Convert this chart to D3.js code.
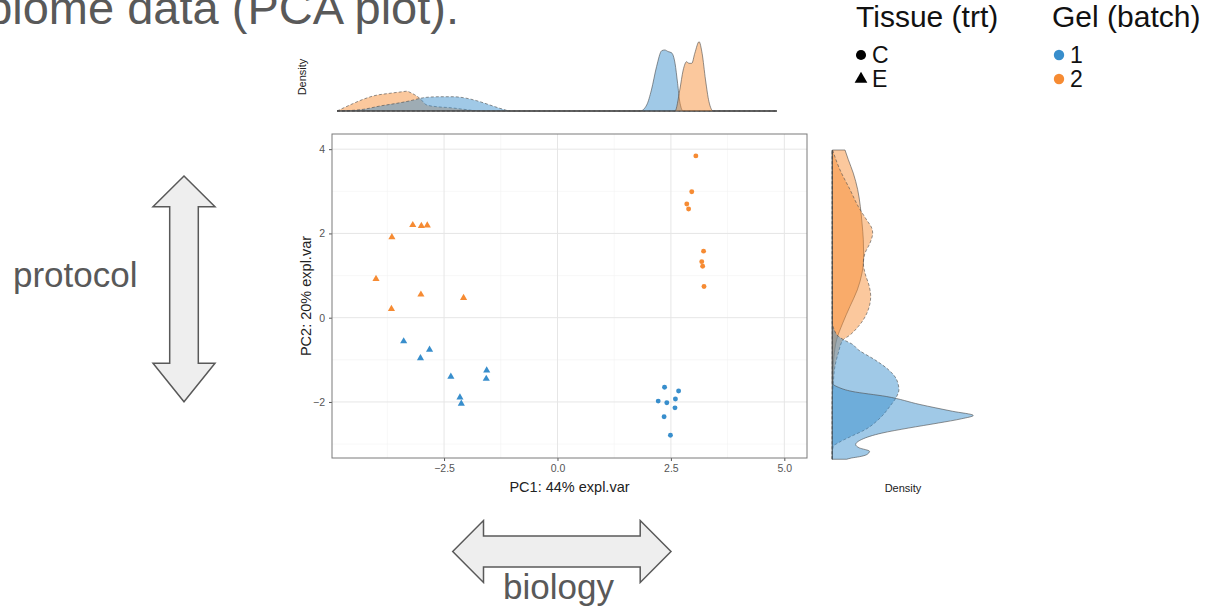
<!DOCTYPE html>
<html>
<head>
<meta charset="utf-8">
<script src="https://cdn.jsdelivr.net/npm/d3@7"></script>
<style>
  html, body { margin: 0; padding: 0; background: #fff; }
  svg { display: block; font-family: "Liberation Sans", Arial, sans-serif; }
</style>
</head>
<body>
<svg id="fig" width="1209" height="613"></svg>
<script>
// ---- PCA scores (PC1, PC2) per sample ----
const sampleX = [-4.00, -3.65, -3.66, -3.19, -3.00, -2.87, -3.01, -2.07,
                 -3.39, -3.02, -2.82, -2.35, -2.15, -2.12, -1.56, -1.57,
                  3.05,  2.96,  2.85,  2.89,  3.22,  3.18,  3.20,  3.23,
                  2.36,  2.67,  2.22,  2.41,  2.60,  2.59,  2.35,  2.49];
const sampleY = [ 0.92,  1.91,  0.21,  2.20,  2.18,  2.19,  0.55,  0.47,
                 -0.56, -0.96, -0.76, -1.40, -1.89, -2.04, -1.25, -1.45,
                  3.84,  2.99,  2.70,  2.58,  1.58,  1.33,  1.22,  0.74,
                 -1.65, -1.74, -1.98, -2.02, -1.93, -2.14, -2.35, -2.79];
const tissue = ["E","E","E","E","E","E","E","E", "E","E","E","E","E","E","E","E",
                "C","C","C","C","C","C","C","C", "C","C","C","C","C","C","C","C"];
const gel    = ["2","2","2","2","2","2","2","2", "1","1","1","1","1","1","1","1",
                "2","2","2","2","2","2","2","2", "1","1","1","1","1","1","1","1"];

const xTicks = [-2.5, 0.0, 2.5, 5.0];
const yTicks = [-2, 0, 2, 4];
const xMinor = [-3.75, -1.25, 1.25, 3.75];
const yMinor = [-3, -1, 1, 3];

// ---- marginal densities: [PC value, density] ----
const topE2 = [[-5.0,0],[-4.70,0.10],[-4.39,0.195],[-4.16,0.25],[-3.77,0.295],[-3.49,0.32],[-3.37,0.33],
               [-3.30,0.31],[-3.19,0.27],[-3.07,0.21],[-2.91,0.10],[-2.68,0.072],[-2.37,0.055],[-2.07,0.03],
               [-1.75,0.005],[-1.5,0],[5.24,0]];
const topE1 = [[-5.0,0],[-4.39,0.028],[-4.0,0.083],[-3.61,0.128],[-3.30,0.17],[-3.07,0.21],[-2.91,0.228],
               [-2.60,0.238],[-2.29,0.238],[-2.06,0.222],[-1.75,0.172],[-1.44,0.10],[-1.13,0.028],[-0.97,0],[5.24,0]];
const topC1 = [[-5.0,0],[2.06,0],[2.21,0.10],[2.32,0.35],[2.44,0.74],[2.56,1.005],[2.63,1.017],[2.71,0.99],
               [2.79,0.97],[2.87,0.795],[2.93,0.46],[2.98,0.155],[3.06,0],[5.24,0]];
const topC2 = [[-5.0,0],[2.87,0],[2.98,0.35],[3.06,0.683],[3.14,0.822],[3.19,0.795],[3.26,0.795],[3.33,0.962],
               [3.43,1.155],[3.50,0.962],[3.58,0.517],[3.66,0.155],[3.76,0],[5.24,0]];

const rightC2 = [[3.98,0.212],[3.75,0.267],[3.43,0.35],[3.04,0.423],[2.64,0.467],[2.25,0.495],[1.85,0.517],
                 [1.45,0.523],[1.06,0.495],[0.66,0.417],[0.27,0.295],[-0.13,0.173],[-0.52,0.073],[-0.92,0.028],
                 [-1.31,0.012],[-1.79,0.003],[-2.3,0],[-3.36,0]];
const rightE2 = [[3.98,0.005],[3.51,0.128],[3.04,0.295],[2.64,0.433],[2.32,0.573],[2.13,0.657],[2.01,0.673],
                 [1.77,0.628],[1.53,0.545],[1.30,0.517],[1.06,0.545],[0.74,0.617],[0.51,0.64],[0.27,0.617],
                 [-0.05,0.517],[-0.21,0.433],[-0.44,0.267],[-0.52,0.183],[-0.84,0.10],[-1.15,0.045],
                 [-1.55,0.017],[-2.0,0],[-3.36,0]];
const rightE1 = [[3.98,0],[-0.1,0],[-0.28,0.03],[-0.44,0.10],[-0.54,0.21],[-0.62,0.323],[-0.76,0.433],
                 [-1.0,0.71],[-1.23,0.933],[-1.47,1.073],[-1.71,1.11],[-1.87,1.073],[-2.10,0.962],[-2.42,0.767],
                 [-2.66,0.545],[-2.81,0.323],[-2.97,0.10],[-3.05,0.017],[-3.2,0],[-3.36,0]];
const rightC1 = [[3.98,0],[-1.55,0],[-1.65,0.10],[-1.75,0.33],[-1.87,0.9],[-2.06,1.46],[-2.22,2.0],[-2.32,2.35],
                 [-2.40,2.15],[-2.50,1.767],[-2.62,1.267],[-2.74,0.823],[-2.89,0.49],[-3.01,0.39],[-3.09,0.45],
                 [-3.17,0.62],[-3.25,0.573],[-3.30,0.45],[-3.33,0.32],[-3.36,0.24]];

const gelColour = { "1": "#388ECC", "2": "#F68B33" };
const dashFor = { "C": null, "E": "3,2" };

const svg = d3.select("#fig");

// ---- heading (runs off the top edge of the slide) ----
svg.append("text").attr("x", 459).attr("y", 24).attr("text-anchor", "end")
  .attr("font-size", 47).attr("fill", "#595959").text("Microbiome data (PCA plot).");

// ---- main scatter panel ----
const x = d3.scaleLinear().domain([-4.97, 5.50]).range([332, 807]);
const y = d3.scaleLinear().domain([-3.33, 4.36]).range([458, 134]);

const grid = svg.append("g");
grid.selectAll(".vminor").data(xMinor).join("line")
  .attr("x1", d => x(d)).attr("x2", d => x(d)).attr("y1", 134).attr("y2", 458)
  .attr("stroke", "#f2f2f2").attr("stroke-width", 0.6);
grid.selectAll(".hminor").data(yMinor).join("line")
  .attr("y1", d => y(d)).attr("y2", d => y(d)).attr("x1", 332).attr("x2", 807)
  .attr("stroke", "#f2f2f2").attr("stroke-width", 0.6);
grid.selectAll(".vmajor").data(xTicks).join("line")
  .attr("x1", d => x(d)).attr("x2", d => x(d)).attr("y1", 134).attr("y2", 458)
  .attr("stroke", "#e6e6e6").attr("stroke-width", 1);
grid.selectAll(".hmajor").data(yTicks).join("line")
  .attr("y1", d => y(d)).attr("y2", d => y(d)).attr("x1", 332).attr("x2", 807)
  .attr("stroke", "#e6e6e6").attr("stroke-width", 1);

const xAxis = svg.append("g").attr("transform", "translate(0,458)")
  .call(d3.axisBottom(x).tickValues(xTicks).tickFormat(d3.format(".1f")).tickSize(3).tickPadding(4));
const yAxis = svg.append("g").attr("transform", "translate(332,0)")
  .call(d3.axisLeft(y).tickValues(yTicks).tickFormat(d3.format("d")).tickSize(3).tickPadding(4));
[xAxis, yAxis].forEach(a => {
  a.select(".domain").remove();
  a.selectAll(".tick line").attr("stroke", "#555");
  a.selectAll(".tick text").attr("fill", "#555").attr("font-size", 10.5)
    .attr("font-family", "Liberation Sans, Arial, sans-serif");
});

svg.append("rect").attr("x", 332).attr("y", 134).attr("width", 475).attr("height", 324)
  .attr("fill", "none").attr("stroke", "#7a7a7a").attr("stroke-width", 1);

svg.append("text").attr("x", 569.5).attr("y", 492).attr("text-anchor", "middle")
  .attr("font-size", 14.5).attr("fill", "#222").text("PC1: 44% expl.var");
svg.append("text").attr("transform", "translate(311,296) rotate(-90)").attr("text-anchor", "middle")
  .attr("font-size", 14.5).attr("fill", "#222").text("PC2: 20% expl.var");

const idx = d3.range(sampleX.length);
svg.append("g").selectAll("path").data(idx).join("path")
  .attr("transform", i => `translate(${x(sampleX[i])},${y(sampleY[i])})`)
  .attr("d", i => d3.symbol(tissue[i] === "C" ? d3.symbolCircle : d3.symbolTriangle,
                            tissue[i] === "C" ? 19 : 22)())
  .attr("fill", i => gelColour[gel[i]]);

// ---- top marginal density (PC1) ----
const xTop = d3.scaleLinear().domain([-5.0, 5.5]).range([337, 788]);
const yTop = d3.scaleLinear().domain([0, 1.2]).range([111, 39]);
const topArea = d3.area().x(d => xTop(d[0])).y0(yTop(0)).y1(d => yTop(d[1])).curve(d3.curveMonotoneX);
const topCurves = [
  { data: topE2, gel: "2", trt: "E" },
  { data: topE1, gel: "1", trt: "E" },
  { data: topC1, gel: "1", trt: "C" },
  { data: topC2, gel: "2", trt: "C" }
];
svg.append("g").selectAll("path").data(topCurves).join("path")
  .attr("d", c => topArea(c.data))
  .attr("fill", c => gelColour[c.gel]).attr("fill-opacity", 0.48)
  .attr("stroke", "#4a4a4a").attr("stroke-width", 0.6)
  .attr("stroke-dasharray", c => dashFor[c.trt]);
svg.append("text").attr("transform", "translate(306,77) rotate(-90)").attr("text-anchor", "middle")
  .attr("font-size", 11).attr("fill", "#222").text("Density");

// ---- right marginal density (PC2) ----
const xRight = d3.scaleLinear().domain([0, 2.4]).range([832.3, 976.3]);
const rightArea = d3.area().y(d => y(d[0])).x0(xRight(0)).x1(d => xRight(d[1])).curve(d3.curveMonotoneY);
const rightCurves = [
  { data: rightC2, gel: "2", trt: "C" },
  { data: rightE2, gel: "2", trt: "E" },
  { data: rightE1, gel: "1", trt: "E" },
  { data: rightC1, gel: "1", trt: "C" }
];
svg.append("g").selectAll("path").data(rightCurves).join("path")
  .attr("d", c => rightArea(c.data.slice().sort((a, b) => a[0] - b[0])))
  .attr("fill", c => gelColour[c.gel]).attr("fill-opacity", 0.48)
  .attr("stroke", "#4a4a4a").attr("stroke-width", 0.6)
  .attr("stroke-dasharray", c => dashFor[c.trt]);
svg.append("text").attr("x", 903).attr("y", 492).attr("text-anchor", "middle")
  .attr("font-size", 11).attr("fill", "#222").text("Density");

// ---- legends ----
const leg = svg.append("g").attr("fill", "#111");
leg.append("text").attr("x", 856).attr("y", 27).attr("font-size", 30).text("Tissue (trt)");
leg.append("text").attr("x", 1052).attr("y", 27).attr("font-size", 30).text("Gel (batch)");
const shapeKeys = [{ k: "C", sym: d3.symbolCircle, yy: 55 }, { k: "E", sym: d3.symbolTriangle, yy: 79 }];
shapeKeys.forEach(s => {
  leg.append("path").attr("transform", `translate(861,${s.yy})`)
    .attr("d", d3.symbol(s.sym, s.k === "C" ? 80 : 70)()).attr("fill", "#000");
  leg.append("text").attr("x", 872).attr("y", s.yy + 8).attr("font-size", 23).text(s.k);
});
["1", "2"].forEach((g, i) => {
  const yy = 55 + i * 24;
  leg.append("circle").attr("cx", 1059).attr("cy", yy).attr("r", 5.2).attr("fill", gelColour[g]);
  leg.append("text").attr("x", 1070).attr("y", yy + 8).attr("font-size", 23).text(g);
});

// ---- interpretation arrows ----
const arrowStyle = sel => sel.attr("fill", "#eeeeee").attr("stroke", "#595959").attr("stroke-width", 1.5)
  .attr("stroke-linejoin", "miter");
const vx = 184, vTop = 176, vBot = 401.7, vHead = 30.7, vHw = 31, vSw = 14.3;
svg.append("polygon").call(arrowStyle).attr("points", [
  [vx, vTop], [vx + vHw, vTop + vHead], [vx + vSw, vTop + vHead], [vx + vSw, vBot - 38.4],
  [vx + vHw, vBot - 38.4], [vx, vBot], [vx - vHw, vBot - 38.4], [vx - vSw, vBot - 38.4],
  [vx - vSw, vTop + vHead], [vx - vHw, vTop + vHead]
].map(p => p.join(",")).join(" "));
svg.append("text").attr("x", 13).attr("y", 287).attr("font-size", 35).attr("fill", "#595959").text("protocol");

const hy = 551.5, hL = 452.7, hR = 671, hHead = 30.8, hHh = 31, hSh = 15.6;
svg.append("polygon").call(arrowStyle).attr("points", [
  [hL, hy], [hL + hHead, hy - hHh], [hL + hHead, hy - hSh], [hR - hHead, hy - hSh], [hR - hHead, hy - hHh],
  [hR, hy], [hR - hHead, hy + hHh], [hR - hHead, hy + hSh], [hL + hHead, hy + hSh], [hL + hHead, hy + hHh]
].map(p => p.join(",")).join(" "));
svg.append("text").attr("x", 503).attr("y", 599).attr("font-size", 35).attr("fill", "#595959").text("biology");
</script>
</body>
</html>
